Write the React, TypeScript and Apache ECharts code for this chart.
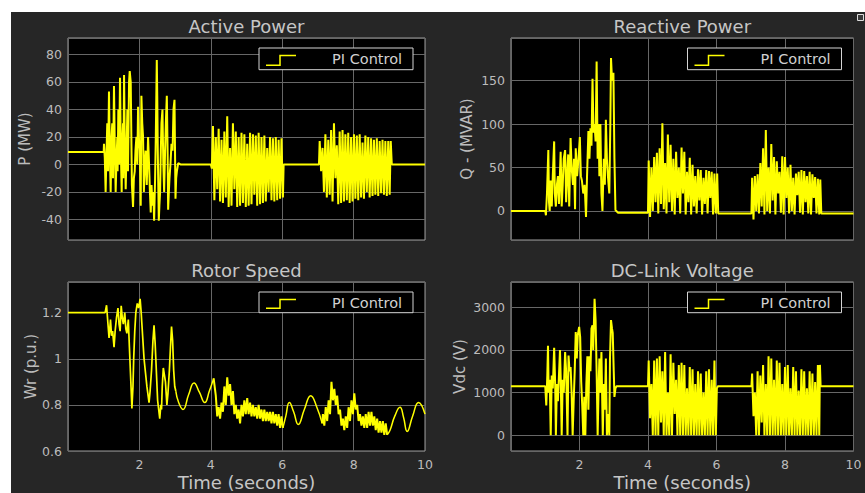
import React, { useEffect, useRef } from "react";
import * as echarts from "echarts";

// ---------------- Active power P (MW) ----------------
const pTransient: number[][] = [
  [0, 9], [1.0, 9], [1.008, 15], [1.03, 5], [1.054, -20], [1.08, 10], [1.1, 30], [1.12, -5], [1.148, 53],
  [1.17, 10], [1.195, -20], [1.22, 20], [1.24, 30], [1.26, -10], [1.288, 57], [1.31, 15], [1.335, -20],
  [1.36, 5], [1.382, 20], [1.39, -5], [1.41, 40], [1.43, 0], [1.457, 63], [1.48, 10], [1.504, -20],
  [1.52, 15], [1.541, 30], [1.55, -10], [1.57, 65], [1.59, 20], [1.616, -18], [1.64, 10], [1.663, 40],
  [1.68, -5], [1.71, 60], [1.729, 68], [1.757, 60], [1.79, -15], [1.822, -31], [1.845, -10], [1.869, -5],
  [1.89, 10], [1.916, 20], [1.94, 0], [1.963, 42], [1.985, 20], [2.009, 10], [2.037, -30], [2.056, 50],
  [2.08, 30], [2.103, 20], [2.125, -20], [2.15, 0], [2.175, 10], [2.206, -15], [2.243, 20], [2.271, 0],
  [2.295, -20], [2.318, -35], [2.34, -15], [2.365, -30], [2.39, -20], [2.412, -41], [2.44, -10], [2.459, 20],
  [2.487, 76], [2.5, 50], [2.515, 10], [2.543, -41], [2.56, -30], [2.58, -20], [2.6, 10], [2.618, 30],
  [2.646, 40], [2.67, 0], [2.693, -20], [2.72, 10], [2.74, 30], [2.768, 50], [2.79, 10], [2.805, -33],
  [2.825, -20], [2.843, -10], [2.87, 0], [2.899, 15], [2.93, 10], [2.955, 40], [2.983, 47], [3.011, -25],
  [3.03, -10], [3.05, -5], [3.087, 1], [3.15, 0], [4.0, 0], [4.03, -3],
];
const pBurst2Start = 4.06;
const pBurst2Hi = [28, 20, 26, 18, 24, 35, 12, 30, 24, 20, 23, 22, 15, 23, 22, 21, 23, 20, 21, 12, 20, 19, 20, 18, 19];
const pBurst2Lo = [-26, -18, -27, -28, -24, -31, -30, -18, -31, -30, -28, -31, -30, -29, -22, -30, -29, -28, -27, -20, -26, -27, -26, -25, -24];
const pGap: number[][] = [[6.04, 0], [7.03, 0]];
const pBurst3Start = 7.05;
const pBurst3Hi = [17, 12, 22, 18, 25, 30, 14, 24, 25, 22, 23, 20, 22, 21, 22, 16, 21, 20, 19, 18, 19, 17, 18, 17, 17];
const pBurst3Lo = [-5, -20, -24, -22, -27, -10, -29, -28, -27, -26, -28, -27, -25, -26, -24, -25, -20, -24, -23, -22, -23, -21, -22, -23, -22];
const pTail: number[][] = [[9.04, 17], [9.07, 0], [10, 0]];

// ---------------- Reactive power Q (MVAR) ----------------
const qTransient: number[][] = [
  [0, 0], [1.0, 0], [1.02, -5], [1.05, 20], [1.09, 70], [1.11, 10], [1.13, 0], [1.16, 35], [1.19, 5],
  [1.22, 40], [1.26, 80], [1.28, 20], [1.31, 5], [1.34, 30], [1.37, 40], [1.4, 8], [1.45, 68], [1.48, 5],
  [1.51, 30], [1.54, 60], [1.58, 70], [1.61, 10], [1.64, 40], [1.67, 65], [1.7, 5], [1.74, 84], [1.77, 50],
  [1.81, 30], [1.84, 60], [1.87, 2], [1.89, 72], [1.93, 40], [1.97, 60], [2.01, 85], [2.04, 40], [2.07, 35],
  [2.11, 20], [2.15, 30], [2.19, -7], [2.22, 40], [2.26, 92], [2.29, 60], [2.32, 95], [2.35, 75], [2.38, 152],
  [2.41, 90], [2.44, 100], [2.47, 80], [2.5, 172], [2.53, 60], [2.56, 100], [2.58, 40], [2.61, 100], [2.64, 20],
  [2.67, 0], [2.71, 60], [2.74, 30], [2.77, 105], [2.8, 60], [2.83, 40], [2.87, 20], [2.9, 100], [2.92, 176],
  [2.95, 150], [2.99, 159], [3.02, 60], [3.05, 1], [3.12, -2], [4.0, -2],
];
const qBurst2Start = 4.02;
const qBurst2Hi = [58, 50, 62, 67, 72, 101, 55, 88, 76, 60, 68, 50, 73, 68, 45, 61, 53, 40, 48, 47, 38, 47, 46, 45, 43];
const qBurst2Lo = [-7, 0, 10, -3, 8, 2, -3, 10, 0, -4, 15, -3, 20, -4, 10, -4, 5, -3, 12, -4, 8, -3, 15, -4, -3];
const qGap: number[][] = [[6.02, 43], [6.05, -3], [7.02, -3]];
const qBurst3Start = 7.04;
const qBurst3Hi = [38, 40, 42, 55, 72, 93, 50, 77, 62, 57, 45, 63, 62, 50, 53, 38, 43, 45, 47, 46, 40, 45, 42, 39, 37];
const qBurst3Lo = [-10, 0, -3, 5, -4, 0, -3, 12, -4, 20, -2, -4, 15, -3, 0, -4, 18, -2, -4, 10, -3, -4, 15, -3, -4];
const qTail: number[][] = [[9.03, 36], [9.06, -3], [10, -3]];

// ---------------- Rotor speed Wr (p.u.) ----------------
const rTransient: number[][] = [
  [0, 1.2], [1.0, 1.2], [1.04, 1.2], [1.08, 1.232], [1.12, 1.15], [1.15, 1.09], [1.19, 1.17], [1.22, 1.1],
  [1.25, 1.12], [1.29, 1.05], [1.32, 1.12], [1.36, 1.18], [1.4, 1.22], [1.43, 1.15], [1.46, 1.12], [1.49, 1.23],
  [1.52, 1.18], [1.55, 1.15], [1.59, 1.2], [1.62, 1.13], [1.65, 1.11], [1.69, 1.17], [1.72, 1.05], [1.76, 0.9],
  [1.79, 0.784], [1.82, 0.88], [1.84, 1.0], [1.87, 1.12], [1.9, 1.2], [1.94, 1.24], [1.98, 1.22], [2.02, 1.26],
  [2.05, 1.2], [2.07, 1.15], [2.13, 1.0], [2.21, 0.88], [2.27, 0.81], [2.3, 0.86], [2.34, 0.95], [2.38, 1.08],
  [2.41, 1.145], [2.44, 1.07], [2.46, 1.0], [2.51, 0.82], [2.54, 0.78], [2.57, 0.74], [2.6, 0.8], [2.62, 0.78],
  [2.64, 0.88], [2.67, 0.96], [2.7, 0.93], [2.73, 0.9], [2.77, 0.8], [2.8, 0.85], [2.84, 0.95], [2.87, 1.05],
  [2.9, 1.14], [2.93, 1.08], [2.96, 0.95], [2.99, 0.88], [3.02, 0.86],
];
const rWave1: number[][] = [[3.02, 0.86], [3.1, 0.81], [3.22, 0.78], [3.38, 0.845], [3.53, 0.895], [3.68, 0.855], [3.83, 0.81], [3.96, 0.86], [4.08, 0.915]];
const rBand1Start = 4.14;
const rBand1Hi = [0.84, 0.79, 0.81, 0.88, 0.92, 0.89, 0.86, 0.8, 0.78, 0.8, 0.82, 0.83, 0.81, 0.8, 0.79, 0.8, 0.78, 0.78, 0.77, 0.77, 0.77, 0.76, 0.76, 0.75];
const rBand1Lo = [0.75, 0.74, 0.77, 0.8, 0.84, 0.8, 0.76, 0.74, 0.72, 0.75, 0.76, 0.76, 0.75, 0.75, 0.74, 0.74, 0.73, 0.73, 0.73, 0.72, 0.72, 0.71, 0.7, 0.7];
const rWave2: number[][] = [[6.02, 0.7], [6.1, 0.75], [6.2, 0.81], [6.32, 0.77], [6.45, 0.715], [6.62, 0.78], [6.8, 0.84], [6.97, 0.79], [7.12, 0.72]];
const rBand2Start = 7.14;
const rBand2Hi = [0.76, 0.79, 0.82, 0.9, 0.87, 0.84, 0.78, 0.74, 0.75, 0.79, 0.82, 0.85, 0.8, 0.76, 0.75, 0.76, 0.77, 0.77, 0.75, 0.74, 0.73, 0.73, 0.72];
const rBand2Lo = [0.71, 0.73, 0.76, 0.82, 0.8, 0.76, 0.71, 0.69, 0.7, 0.73, 0.76, 0.78, 0.73, 0.71, 0.7, 0.7, 0.71, 0.71, 0.69, 0.68, 0.68, 0.67, 0.67];
const rWave3: number[][] = [[8.94, 0.67], [9.02, 0.69], [9.15, 0.75], [9.3, 0.79], [9.4, 0.745], [9.5, 0.685], [9.65, 0.75], [9.82, 0.81], [10, 0.76]];

// ---------------- DC-link voltage Vdc (V) ----------------
const vTransient: number[][] = [
  [0, 1150], [1.0, 1150], [1.03, 700], [1.06, 1400], [1.08, 2100], [1.1, 1000], [1.13, 1300], [1.16, 0],
  [1.19, 1400], [1.22, 1100], [1.26, 2050], [1.29, 1200], [1.31, 0], [1.34, 1200], [1.37, 800], [1.43, 2000],
  [1.45, 1400], [1.48, 0], [1.51, 1300], [1.54, 1000], [1.58, 1950], [1.61, 1500], [1.65, 0], [1.68, 1870],
  [1.71, 1500], [1.74, 1600], [1.77, 1000], [1.8, 0], [1.83, 800], [1.86, 1500], [1.89, 2420], [1.92, 1800],
  [1.95, 2350], [1.99, 2540], [2.02, 2300], [2.05, 1250], [2.08, 700], [2.11, 0], [2.14, 900], [2.17, 0],
  [2.2, 1200], [2.23, 1850], [2.26, 600], [2.29, 1850], [2.32, 1500], [2.35, 2500], [2.38, 2576], [2.4, 2000],
  [2.44, 3200], [2.47, 2700], [2.5, 1500], [2.53, 0], [2.56, 1200], [2.58, 1800], [2.61, 1000], [2.64, 1950],
  [2.68, 0], [2.71, 1200], [2.74, 600], [2.77, 1800], [2.8, 0], [2.84, 500], [2.87, 0], [2.89, 1800],
  [2.92, 2700], [2.95, 2500], [2.97, 2400], [3.0, 1500], [3.02, 900], [3.05, 1100], [3.08, 1150], [4.0, 1150],
];
const vBurst2Start = 4.02;
const vBurst2Hi = [1750, 1200, 1750, 1800, 1850, 1500, 1950, 1000, 1900, 1700, 1300, 1650, 1700, 1650, 1100, 1600, 1550, 1200, 1500, 1450, 1000, 1500, 1550, 1300, 1750];
const vBurst2Lo = [400, 0, 0, 0, 300, 0, 0, 0, 0, 500, 0, 0, 0, 0, 0, 0, 0, 0, 0, 0, 0, 0, 0, 0, 0];
const vGap: number[][] = [[6.01, 1100], [6.04, 1150], [7.02, 1150]];
const vBurst3Start = 7.04;
const vBurst3Hi = [1450, 1000, 1500, 1400, 1650, 1200, 1850, 1800, 1300, 1750, 1700, 1200, 1600, 1650, 1100, 1600, 1500, 1050, 1550, 1500, 1100, 1500, 1450, 1250, 1650];
const vBurst3Lo = [450, 0, 0, 300, 0, 0, 0, 0, 0, 0, 0, 0, 0, 0, 0, 0, 0, 0, 0, 0, 0, 0, 0, 0, 0];
const vTail: number[][] = [[9.02, 1650], [9.04, 1150], [10, 1150]];

// ---------------- labels ----------------
const titles = ["Active Power", "Reactive Power", "Rotor Speed", "DC-Link Voltage"];
const yNames = ["P (MW)", "Q - (MVAR)", "Wr (p.u.)", "Vdc (V)"];
const xName = "Time (seconds)";
const legendLabel = "PI Control";

const HALF = 0.04; // half-period between a crest and the next trough in the fast bursts

function burst(t0: number, hi: number[], lo: number[]): number[][] {
  const out: number[][] = [];
  hi.forEach((h, i) => {
    out.push([+(t0 + 2 * i * HALF).toFixed(3), h]);
    out.push([+(t0 + (2 * i + 1) * HALF).toFixed(3), lo[i]]);
  });
  return out;
}

const FONT = "'DejaVu Sans', Arial, sans-serif";
const TXT = "#bcbcbc";
const TITLE = "#c6c6c6";
const YEL = "#ffff00";

const grids = [
  { left: 68, top: 38, width: 357, height: 202 },
  { left: 511, top: 38, width: 342.5, height: 202 },
  { left: 68, top: 282, width: 357, height: 169 },
  { left: 511, top: 282, width: 342.5, height: 169 },
];
const yCfg = [
  { min: -55, max: 92, split: 7, showMin: false, gap: 36 },
  { min: -33.5, max: 199, split: 5, showMin: false, gap: 37 },
  { min: 0.6, max: 1.333, split: 4, showMin: true, gap: 30 },
  { min: -368, max: 3593, split: 4, showMin: false, gap: 44 },
];

function lineSeries(idx: number, data: number[][], width: number, smooth = false) {
  return {
    type: "line",
    name: legendLabel,
    xAxisIndex: idx,
    yAxisIndex: idx,
    data,
    smooth,
    symbol: "none",
    showSymbol: false,
    silent: true,
    lineStyle: { color: YEL, width },
    itemStyle: { color: YEL },
  };
}

export default function App() {
  const ref = useRef<HTMLDivElement>(null);
  useEffect(() => {
    if (!ref.current) return;
    const chart = echarts.init(ref.current, undefined, { renderer: "svg" });

    const pData = [
      ...pTransient,
      ...burst(pBurst2Start, pBurst2Hi, pBurst2Lo),
      ...pGap,
      ...burst(pBurst3Start, pBurst3Hi, pBurst3Lo),
      ...pTail,
    ];
    const qData = [
      ...qTransient,
      ...burst(qBurst2Start, qBurst2Hi, qBurst2Lo),
      ...qGap,
      ...burst(qBurst3Start, qBurst3Hi, qBurst3Lo),
      ...qTail,
    ];
    const vData = [
      ...vTransient,
      ...burst(vBurst2Start, vBurst2Hi, vBurst2Lo),
      ...vGap,
      ...burst(vBurst3Start, vBurst3Hi, vBurst3Lo),
      ...vTail,
    ];
    const rBand1 = [rWave1[rWave1.length - 1], ...burst(rBand1Start, rBand1Hi, rBand1Lo)];
    const rBand2 = [rWave2[rWave2.length - 1], ...burst(rBand2Start, rBand2Hi, rBand2Lo)];

    const graphics: any[] = [];
    grids.forEach((g, i) => {
      const cx = g.left + g.width / 2;
      const ty = i < 2 ? 26 : 270;
      graphics.push({
        type: "text",
        x: cx,
        y: ty,
        z: 50,
        style: {
          text: titles[i],
          fill: TITLE,
          fontSize: 18,
          fontFamily: FONT,
          align: "center",
          verticalAlign: "middle",
          textAlign: "center",
          textVerticalAlign: "middle",
        },
      });
      const lx = g.left + g.width - 166;
      const ly = g.top + 10;
      const lh = i < 2 ? 21.7 : 20.7;
      graphics.push({
        type: "rect",
        z: 60,
        shape: { x: lx, y: ly, width: 154, height: lh },
        style: { fill: "#000000", stroke: "#d4d4d4", lineWidth: 1 },
      });
      const low = ly + lh - 4.5;
      const high = ly + 7.5;
      graphics.push({
        type: "polyline",
        z: 61,
        shape: { points: [[lx + 7, low], [lx + 21, low], [lx + 21, high], [lx + 37, high]] },
        style: { stroke: YEL, lineWidth: 1.5, fill: null },
      });
      graphics.push({
        type: "text",
        z: 61,
        x: lx + 73,
        y: ly + lh / 2 + 0.5,
        style: {
          text: legendLabel,
          fill: "#d0d0d0",
          fontSize: 14.5,
          fontFamily: FONT,
          align: "left",
          verticalAlign: "middle",
          textAlign: "left",
          textVerticalAlign: "middle",
        },
      });
    });
    // small undock icon at the top right corner
    graphics.push({
      type: "rect",
      z: 60,
      shape: { x: 857.5, y: 14.5, width: 6, height: 6 },
      style: { fill: "#3a3a3a", stroke: "#dddddd", lineWidth: 1 },
    });

    const option: any = {
      animation: false,
      backgroundColor: "transparent",
      grid: grids.map((g) => ({
        ...g,
        show: true,
        backgroundColor: "#000000",
        borderColor: "#9c9c9c",
        borderWidth: 1,
        containLabel: false,
      })),
      xAxis: grids.map((_, i) => ({
        type: "value",
        gridIndex: i,
        min: 0,
        max: 10,
        interval: 2,
        axisLine: { show: false },
        axisTick: { show: false },
        splitLine: { show: true, lineStyle: { color: "#676767", width: 1 } },
        axisLabel: {
          show: i >= 2,
          showMinLabel: false,
          showMaxLabel: true,
          color: TXT,
          fontSize: 12.5,
          fontFamily: FONT,
          margin: 7,
        },
        name: i >= 2 ? xName : "",
        nameLocation: "middle",
        nameGap: 22,
        nameTextStyle: { color: TITLE, fontSize: 18, fontFamily: FONT },
      })),
      yAxis: yCfg.map((c, i) => ({
        type: "value",
        gridIndex: i,
        min: c.min,
        max: c.max,
        splitNumber: c.split,
        axisLine: { show: false },
        axisTick: { show: false },
        splitLine: { show: true, lineStyle: { color: "#676767", width: 1 } },
        axisLabel: {
          showMinLabel: c.showMin,
          showMaxLabel: false,
          color: TXT,
          fontSize: 12.5,
          fontFamily: FONT,
          margin: 6,
          formatter: (v: number) => String(v),
        },
        name: yNames[i],
        nameLocation: "middle",
        nameGap: c.gap,
        nameTextStyle: { color: TXT, fontSize: 15, fontFamily: FONT },
      })),
      graphic: graphics,
      series: [
        lineSeries(0, pData, 2),
        lineSeries(1, qData, 2),
        lineSeries(2, rTransient, 1.7),
        lineSeries(2, rWave1, 1.5, true),
        lineSeries(2, rBand1, 2),
        lineSeries(2, rWave2, 1.5, true),
        lineSeries(2, rBand2, 2),
        lineSeries(2, rWave3, 1.5, true),
        lineSeries(3, vData, 2),
      ],
    };
    chart.setOption(option);
    return () => chart.dispose();
  }, []);

  return (
    <div style={{ position: "absolute", left: 0, top: 0, width: 865, height: 493, background: "#ffffff" }}>
      <div style={{ position: "absolute", left: 11, top: 12, width: 854, height: 481, background: "#262626" }} />
      <div ref={ref} style={{ position: "absolute", left: 0, top: 0, width: 865, height: 493 }} />
    </div>
  );
}
